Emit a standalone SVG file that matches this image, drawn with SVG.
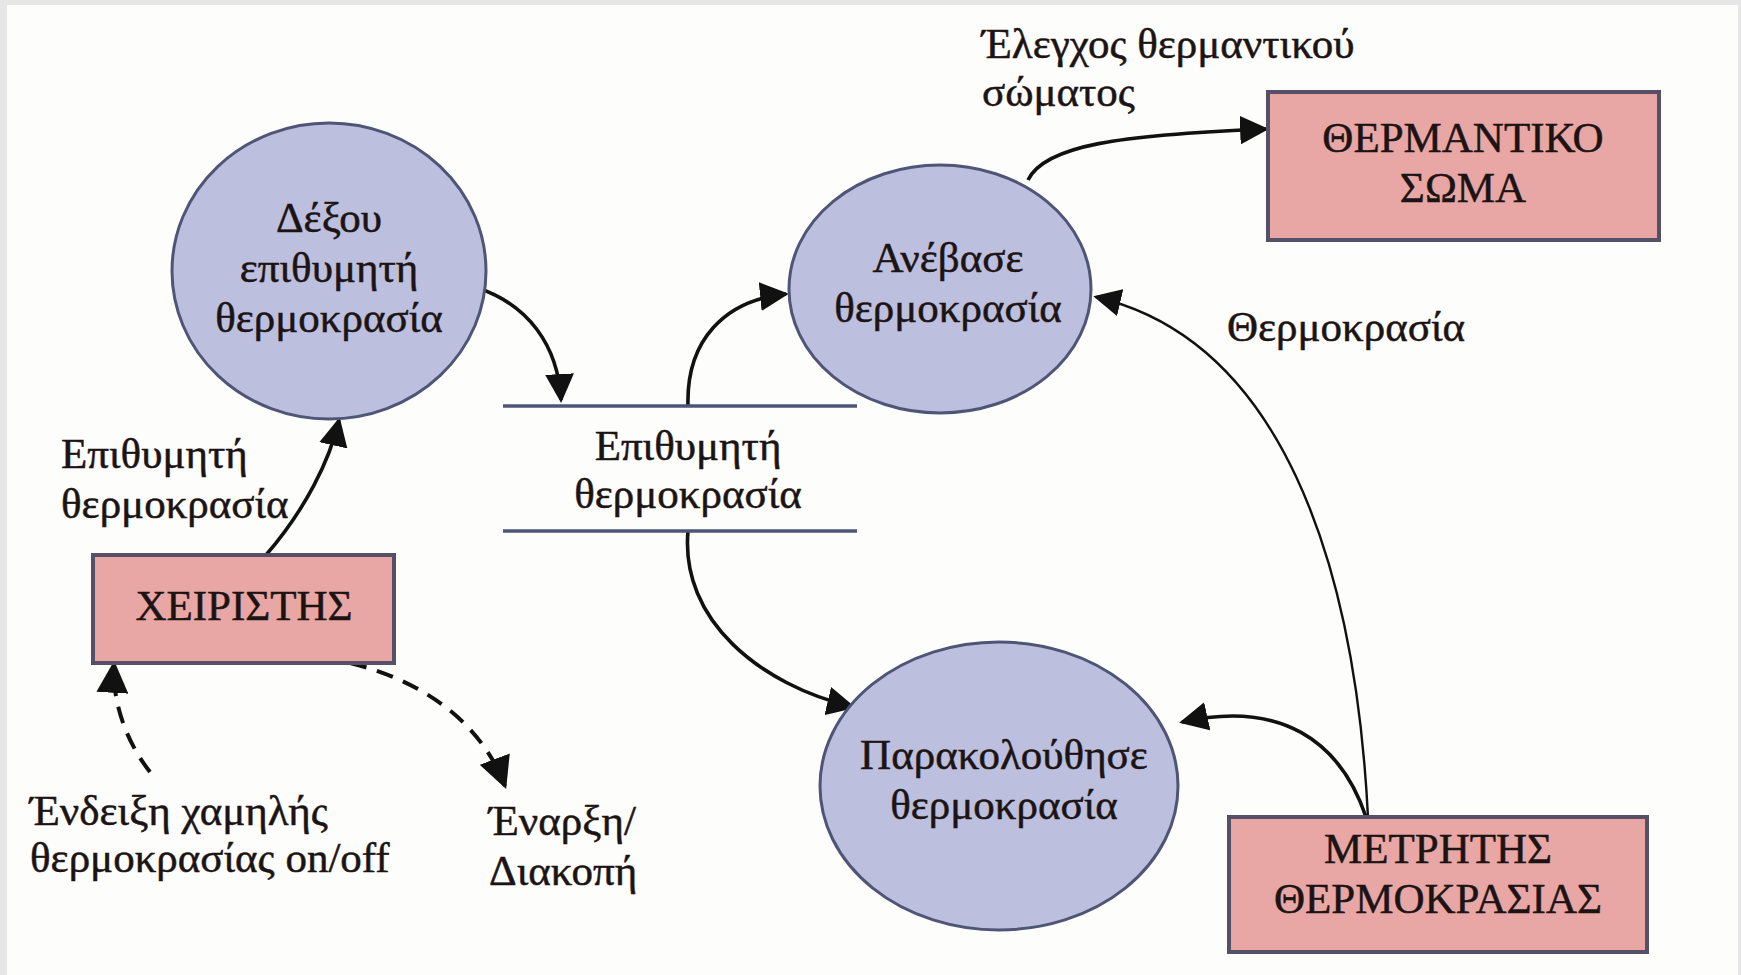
<svg xmlns="http://www.w3.org/2000/svg" width="1741" height="975" viewBox="0 0 1741 975">
  <style>
    .proc { fill: #bcbfdd; stroke: #4f5577; stroke-width: 3; }
    .ext { fill: #e8a6a4; stroke: #555068; stroke-width: 4; }
    .store { stroke: #4f5577; stroke-width: 3.5; fill: none; }
    .flow { fill: none; stroke: #111; stroke-width: 3.6; }
    .thin { fill: none; stroke: #111; stroke-width: 2.4; }
    .dash { stroke-dasharray: 17 11; stroke-width: 4; }
    text { font-family: "Liberation Serif", "DejaVu Serif", serif; font-size: 43px; fill: #1c1414; stroke: #1c1414; stroke-width: 0.5; }
    .c { text-anchor: middle; }
  </style>
  <defs>
    <marker id="arrow" viewBox="0 0 10 10" refX="9" refY="5" markerWidth="8" markerHeight="8" orient="auto" markerUnits="strokeWidth">
      <path d="M0,0 L10,5 L0,10 z" fill="#111"/>
    </marker>
    <marker id="arrowThin" viewBox="0 0 10 10" refX="9" refY="5" markerWidth="11.5" markerHeight="11.5" orient="auto" markerUnits="strokeWidth">
      <path d="M0,0 L10,5 L0,10 z" fill="#111"/>
    </marker>
  </defs>

  <!-- page frame -->
  <rect x="0" y="0" width="1741" height="975" fill="#e6e6e6"/>
  <rect x="7" y="5" width="1731" height="970" fill="#fdfdfb"/>

  <!-- connectors -->
  <g id="connectors">
    <path class="flow" d="M478 288 C528 305 558 345 561 400" marker-end="url(#arrow)"/>
    <path class="flow" d="M688 406 C686 340 725 300 786 294" marker-end="url(#arrow)"/>
    <path class="flow" d="M1028 180 C1045 145 1120 135 1266 129" marker-end="url(#arrow)"/>
    <path class="thin" d="M1368 817 C1355 560 1280 340 1096 297" marker-end="url(#arrowThin)"/>
    <path class="flow" d="M1366 817 C1340 740 1280 700 1182 722" marker-end="url(#arrow)"/>
    <path class="flow" d="M688 531 C680 620 760 685 853 707" marker-end="url(#arrow)"/>
    <path class="flow" d="M266 555 C305 510 330 460 339 420" marker-end="url(#arrow)"/>
    <path class="flow dash" d="M150 772 C125 740 112 700 114 664" marker-end="url(#arrow)"/>
    <path class="flow dash" d="M350 663 C420 680 480 720 505 786" marker-end="url(#arrow)"/>
  </g>

  <!-- data store -->
  <g id="store-desired-temp">
    <line class="store" x1="503" y1="406" x2="857" y2="406"/>
    <line class="store" x1="503" y1="531" x2="857" y2="531"/>
    <text class="c" x="688" y="460">Επιθυμητή</text>
    <text class="c" x="688" y="508">θερμοκρασία</text>
  </g>

  <!-- processes -->
  <g id="proc-receive">
    <ellipse class="proc" cx="329" cy="271" rx="157" ry="148"/>
    <text class="c" x="329" y="232">Δέξου</text>
    <text class="c" x="329" y="282">επιθυμητή</text>
    <text class="c" x="329" y="332">θερμοκρασία</text>
  </g>
  <g id="proc-raise">
    <ellipse class="proc" cx="940" cy="289" rx="151" ry="124"/>
    <text class="c" x="948" y="272">Ανέβασε</text>
    <text class="c" x="948" y="322">θερμοκρασία</text>
  </g>
  <g id="proc-monitor">
    <ellipse class="proc" cx="999" cy="786" rx="179" ry="144"/>
    <text class="c" x="1004" y="769">Παρακολούθησε</text>
    <text class="c" x="1004" y="819">θερμοκρασία</text>
  </g>

  <!-- external entities -->
  <g id="ext-heater">
    <rect class="ext" x="1268" y="92" width="391" height="148"/>
    <text class="c" x="1463" y="152">ΘΕΡΜΑΝΤΙΚΟ</text>
    <text class="c" x="1463" y="202">ΣΩΜΑ</text>
  </g>
  <g id="ext-operator">
    <rect class="ext" x="93" y="555" width="301" height="108"/>
    <text class="c" x="244" y="620">ΧΕΙΡΙΣΤΗΣ</text>
  </g>
  <g id="ext-sensor">
    <rect class="ext" x="1229" y="817" width="418" height="135"/>
    <text class="c" x="1438" y="863">ΜΕΤΡΗΤΗΣ</text>
    <text class="c" x="1438" y="913">ΘΕΡΜΟΚΡΑΣΙΑΣ</text>
  </g>

  <!-- flow labels -->
  <g id="labels">
    <text x="982" y="58">Έλεγχος θερμαντικού</text>
    <text x="982" y="106">σώματος</text>
    <text x="1227" y="341">Θερμοκρασία</text>
    <text x="61" y="468">Επιθυμητή</text>
    <text x="61" y="518">θερμοκρασία</text>
    <text x="30" y="825">Ένδειξη χαμηλής</text>
    <text x="30" y="872">θερμοκρασίας on/off</text>
    <text x="489" y="835">Έναρξη/</text>
    <text x="489" y="885">Διακοπή</text>
  </g>
</svg>
